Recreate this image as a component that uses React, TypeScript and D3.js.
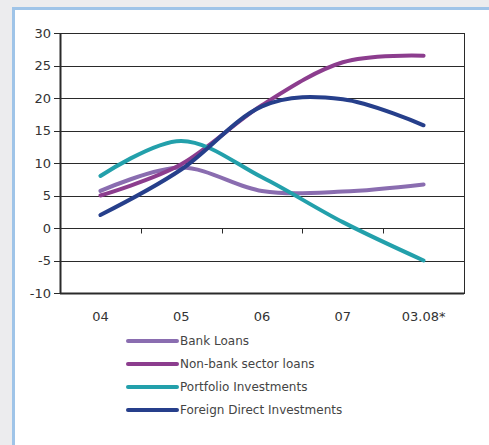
import React from "react";
import * as d3 from "d3";

const categories = ["04", "05", "06", "07", "03.08*"];
const bankLoans = [5.7, 9.3, 5.7, 5.6, 6.7];
const nonBankLoans = [5.0, 9.8, 18.9, 25.5, 26.5];
const portfolioInv = [8.0, 13.4, 7.8, 0.9, -5.0];
const fdi = [2.0, 9.0, 18.7, 19.8, 15.8];
const yTicks = [30, 25, 20, 15, 10, 5, 0, -5, -10];

const seriesNames = ["Bank Loans", "Non-bank sector loans", "Portfolio Investments", "Foreign Direct Investments"];
const seriesColors = ["#8a6db0", "#8c3d8e", "#23a0ab", "#263f8b"];
const seriesData = [bankLoans, nonBankLoans, portfolioInv, fdi];

export default function App() {
  const W = 489, H = 445;
  const left = 60, right = 464, top = 33, bottom = 293;
  const x = d3.scaleBand<string>().domain(categories).range([left, right]);
  const y = d3.scaleLinear().domain([-10, 30]).range([bottom, top]);
  const line = d3
    .line<number>()
    .x((_, i) => (x(categories[i]) as number) + x.bandwidth() / 2)
    .y((d) => y(d))
    .curve(d3.curveCardinal.tension(0));
  const font = "'DejaVu Sans', 'Liberation Sans', sans-serif";
  const y0 = Math.round(y(0)) + 0.5;
  return (
    <svg width={W} height={H} style={{ position: "absolute", left: 0, top: 0 }}>
      <rect x={0} y={0} width={W} height={H} fill="#ececee" />
      <rect x={13.5} y={8.5} width={W} height={H} fill="#ffffff" stroke="#9fc4e8" strokeWidth={3} />
      {yTicks.map((t) => (
        <g key={t}>
          <line x1={left - 6} x2={right} y1={Math.round(y(t)) + 0.5} y2={Math.round(y(t)) + 0.5} stroke="#2a2a2a" strokeWidth={1} />
          <text x={left - 9} y={y(t)} dy="0.35em" textAnchor="end" fontSize={13} fill="#333" fontFamily={font}>
            {t}
          </text>
        </g>
      ))}
      <rect x={left + 0.5} y={top + 0.5} width={right - left} height={bottom - top} fill="none" stroke="#2a2a2a" strokeWidth={1} />
      <line x1={left + 0.5} x2={left + 0.5} y1={top} y2={bottom + 1} stroke="#2a2a2a" strokeWidth={2} />
      <line x1={left} x2={right} y1={bottom + 0.5} y2={bottom + 0.5} stroke="#2a2a2a" strokeWidth={2} />
      {categories.slice(1).map((c) => (
        <line key={c} x1={Math.round(x(c) as number) + 0.5} x2={Math.round(x(c) as number) + 0.5} y1={y0} y2={y0 + 5} stroke="#2a2a2a" />
      ))}
      {categories.map((c) => (
        <text key={c} x={(x(c) as number) + x.bandwidth() / 2} y={bottom + 28} textAnchor="middle" fontSize={13} fill="#333" fontFamily={font}>
          {c}
        </text>
      ))}
      {seriesData.map((s, i) => (
        <path key={i} d={line(s) || ""} fill="none" stroke={seriesColors[i]} strokeWidth={4} strokeLinecap="round" />
      ))}
      {seriesNames.map((n, i) => (
        <g key={n} transform={`translate(0, ${341 + i * 23})`}>
          <line x1={128} x2={177} y1={0} y2={0} stroke={seriesColors[i]} strokeWidth={4} strokeLinecap="round" />
          <text x={180} y={0} dy="0.35em" fontSize={12} fill="#444" fontFamily={font}>
            {n}
          </text>
        </g>
      ))}
    </svg>
  );
}
